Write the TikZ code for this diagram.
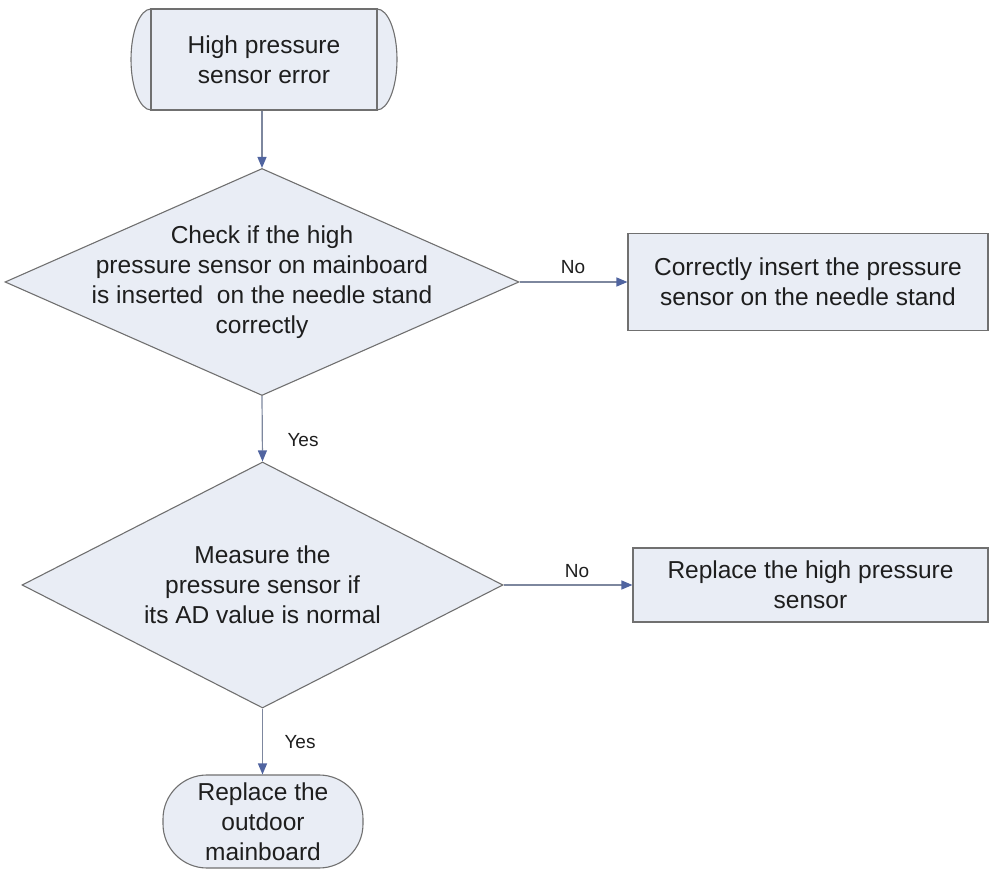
\documentclass[tikz,border=0pt]{standalone}
\usepackage{fontspec}
\setmainfont{Liberation Sans}
\usetikzlibrary{shapes.geometric,arrows.meta}
\definecolor{boxfill}{RGB}{233,237,245}
\definecolor{boxline}{RGB}{112,112,112}
\definecolor{arrline}{RGB}{125,135,158}
\definecolor{arrhead}{RGB}{80,100,160}
\definecolor{txt}{RGB}{30,30,30}
\tikzset{
  x=1pt,y=1pt,
  shapebase/.style={draw=boxline,fill=boxfill,line width=1.1pt,inner sep=0pt},
  dshape/.style={shapebase,diamond},
  rbox/.style={shapebase,rectangle},
  tbox/.style={shapebase,rectangle,rounded corners=44pt},
  maintext/.style={text=txt,align=center,font=\fontsize{24.5}{30}\selectfont,inner sep=0pt},
  lab/.style={text=txt,font=\fontsize{19}{21}\selectfont,inner sep=0pt},
  conn/.style={draw=arrline,line width=1.2pt,-{Triangle[length=11pt,width=9pt,color=arrhead]}},
}
\begin{document}
\begin{tikzpicture}
\useasboundingbox (0,0) rectangle (996,881);
% start shape (stored-data-like with curved ends)
\path[shapebase] (151,872) arc[start angle=90,end angle=270,x radius=20,y radius=50.5]
  -- (377,771) arc[start angle=-90,end angle=90,x radius=20,y radius=50.5] -- cycle;
\node[draw=boxline,line width=1.1pt,minimum width=226pt,minimum height=101pt,inner sep=0pt] (s) at (264,821.5) {};
\node[maintext] (st) at (264,821.5) {High pressure\\sensor error};
% decision 1
\node[dshape,minimum width=514pt,minimum height=227pt] (d1) at (262,599) {};
\node[maintext] (d1t) at (262,599) {Check if the high\\pressure sensor on mainboard\\is inserted\ \ on the needle stand\\correctly};
% box 1
\node[rbox,minimum width=360pt,minimum height=97pt] (b1) at (808,599) {};
\node[maintext] (b1t) at (808,599) {Correctly insert the pressure\\sensor on the needle stand};
% decision 2
\node[dshape,minimum width=481pt,minimum height=246pt] (d2) at (262.5,296) {};
\node[maintext] (d2t) at (262.5,296) {Measure the\\pressure sensor if\\its AD value is normal};
% box 2
\node[rbox,minimum width=355pt,minimum height=74pt] (b2) at (810.5,296) {};
\node[maintext] (b2t) at (810.5,296) {Replace the high pressure\\sensor};
% terminal
\node[tbox,minimum width=200pt,minimum height=93pt] (e) at (263,59.5) {};
\node[maintext] (et) at (263,59.5) {Replace the\\outdoor\\mainboard};
% connectors
\draw[conn] (s.south -| d1.north) -- (d1.north);
\draw[conn] (d1.east) -- (b1.west);
\draw[conn] (d1.south) -- (d2.north);
\draw[conn] (d2.east) -- (b2.west);
\draw[conn] (d2.south) -- (e.north -| d2.south);
% labels
\node[lab] (no1) at (573,614) {No};
\node[lab] (no2) at (577,310) {No};
\node[lab] (yes1) at (303,441) {Yes};
\node[lab] (yes2) at (300,139) {Yes};
\end{tikzpicture}
\end{document}
